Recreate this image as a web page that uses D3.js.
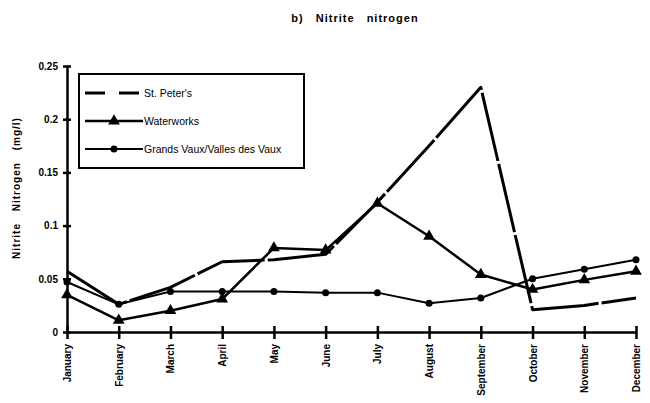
<!DOCTYPE html>
<html>
<head>
<meta charset="utf-8">
<script src="https://cdn.jsdelivr.net/npm/d3@7"></script>
<style>
  body { margin: 0; background: #fff; }
  text { font-family: "Liberation Sans", Arial, sans-serif; font-weight: bold; fill: #000; }
</style>
</head>
<body>
<div id="chart"></div>
<script>
// Data
const months = ["January", "February", "March", "April", "May", "June", "July",
  "August", "September", "October", "November", "December"];
const stPeters = [0.057, 0.026, 0.042, 0.066, 0.068, 0.073, 0.122, 0.175, 0.230, 0.021, 0.025, 0.032];
const waterworks = [0.035, 0.011, 0.020, 0.031, 0.079, 0.077, 0.121, 0.090, 0.054, 0.040, 0.049, 0.057];
const grandsVaux = [0.047, 0.026, 0.038, 0.038, 0.038, 0.037, 0.037, 0.027, 0.032, 0.050, 0.059, 0.068];
const yTicks = [0, 0.05, 0.1, 0.15, 0.2, 0.25];

const width = 650;
const height = 403;

const svg = d3
  .select("#chart")
  .append("svg")
  .attr("width", width)
  .attr("height", height);

// Scales
const x = d3.scalePoint().domain(months).range([67, 636]);
const y = d3.scaleLinear().domain([0, 0.25]).range([332, 66]);

// Title
svg
  .append("text")
  .attr("x", 355)
  .attr("y", 22)
  .attr("text-anchor", "middle")
  .style("font-size", "11px")
  .style("letter-spacing", "1px")
  .style("word-spacing", "8px")
  .text("b)  Nitrite  nitrogen");

// Y axis
const yAxis = svg
  .append("g")
  .attr("transform", "translate(67,0)")
  .call(d3.axisLeft(y).tickValues(yTicks).tickSize(0).tickPadding(9).tickFormat((d) => d));

yAxis.select(".domain").attr("stroke", "#000").attr("stroke-width", 2.5);
yAxis.selectAll(".tick text").style("font-size", "10px").style("font-weight", "bold");
yAxis
  .selectAll(".tick")
  .append("line")
  .attr("x1", -4)
  .attr("x2", 4)
  .attr("stroke", "#000")
  .attr("stroke-width", 2.5);

// Y axis title
svg
  .append("text")
  .attr("transform", "translate(20,188) rotate(-90)")
  .attr("text-anchor", "middle")
  .style("font-size", "10px")
  .style("letter-spacing", "1px")
  .style("word-spacing", "8px")
  .text("Nitrite  Nitrogen  (mg/l)");

// X axis
const xAxis = svg
  .append("g")
  .attr("transform", `translate(0,${y(0)})`)
  .call(d3.axisBottom(x).tickSize(0).tickFormat(""));

xAxis.select(".domain").attr("stroke", "#000").attr("stroke-width", 2.5);
xAxis
  .selectAll(".tick")
  .append("line")
  .attr("y1", -6)
  .attr("y2", 7)
  .attr("stroke", "#000")
  .attr("stroke-width", 2.5);

svg
  .append("g")
  .selectAll("text")
  .data(months)
  .enter()
  .append("text")
  .attr("transform", (d) => `translate(${x(d) + 4},${y(0) + 12}) rotate(-90)`)
  .attr("text-anchor", "end")
  .style("font-size", "10px")
  .text((d) => d);

// Lines
const series = [
  {name: "St. Peter's", values: stPeters, width: 3, dash: "70,3", marker: "none"},
  {name: "Waterworks", values: waterworks, width: 2.5, dash: null, marker: "triangle"},
  {name: "Grands Vaux/Valles des Vaux", values: grandsVaux, width: 2, dash: null, marker: "circle"},
];

const line = d3
  .line()
  .x((d, i) => x(months[i]))
  .y((d) => y(d));

series.forEach((s) => {
  svg
    .append("path")
    .datum(s.values)
    .attr("fill", "none")
    .attr("stroke", "#000")
    .attr("stroke-width", s.width)
    .attr("stroke-dasharray", s.dash)
    .attr("stroke-linejoin", "round")
    .attr("d", line);

  if (s.marker === "triangle") {
    svg
      .append("g")
      .selectAll("path")
      .data(s.values)
      .enter()
      .append("path")
      .attr("d", d3.symbol().type(d3.symbolTriangle).size(60))
      .attr("transform", (d, i) => `translate(${x(months[i])},${y(d)})`)
      .attr("fill", "#000");
  } else if (s.marker === "circle") {
    svg
      .append("g")
      .selectAll("circle")
      .data(s.values)
      .enter()
      .append("circle")
      .attr("cx", (d, i) => x(months[i]))
      .attr("cy", (d) => y(d))
      .attr("r", 3.5)
      .attr("fill", "#000");
  }
});

// Legend
const legend = svg.append("g").attr("transform", "translate(79,74)");

legend
  .append("rect")
  .attr("width", 225)
  .attr("height", 94)
  .attr("fill", "#fff")
  .attr("stroke", "#000")
  .attr("stroke-width", 2);

legend
  .selectAll("g")
  .data(series)
  .enter()
  .append("g")
  .attr("transform", (d, i) => `translate(6, ${19 + i * 28})`)
  .each(function (d) {
    const g = d3.select(this);
    g.append("line")
      .attr("x1", 0)
      .attr("x2", 58)
      .attr("stroke", "#000")
      .attr("stroke-width", d.width)
      .attr("stroke-dasharray", d.dash ? "20,14" : null);

    if (d.marker === "triangle") {
      g.append("path")
        .attr("d", d3.symbol().type(d3.symbolTriangle).size(60))
        .attr("transform", "translate(29,0)")
        .attr("fill", "#000");
    } else if (d.marker === "circle") {
      g.append("circle").attr("cx", 29).attr("r", 3.5).attr("fill", "#000");
    }

    g.append("text")
      .attr("x", 59)
      .attr("dy", "0.35em")
      .style("font-size", "10.5px")
      .style("font-weight", "normal")
      .text(d.name);
  });
</script>
</body>
</html>
